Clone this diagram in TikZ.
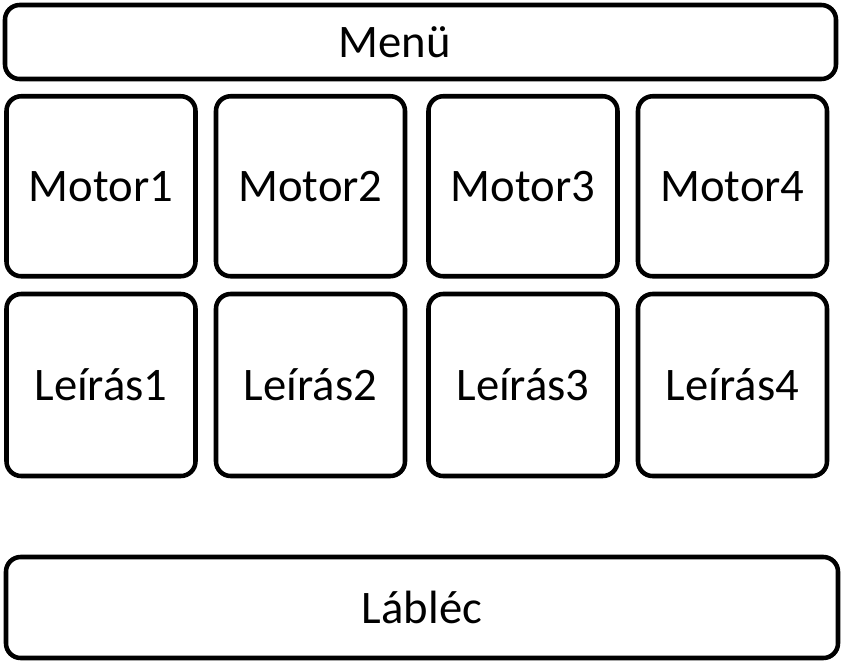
\documentclass[tikz,border=0pt]{standalone}
\usepackage{fontspec}
\setmainfont{Carlito}
\usepackage{tikz}
\tikzset{
  panel/.style={draw, line width=3.4pt, rounded corners=11pt, font=\fontsize{35}{42}\selectfont, inner sep=0pt},
  cell/.style={panel, minimum width=141.75pt, minimum height=135pt},
  desc/.style={panel, minimum width=141.75pt, minimum height=136.5pt},
}
\begin{document}
\begin{tikzpicture}[x=0.75pt,y=0.75pt,yscale=-1,xscale=1]
\useasboundingbox (0,0) rectangle (844,665);

%Shape: Rounded Rectangle [menu]
\node [panel, minimum width=623.25pt, minimum height=55.5pt,
  label={[font=\fontsize{35}{42}\selectfont, xshift=-19.5pt]center:Menü}] (menu) at (420.5,42) {};

%Shape: Rounded Rectangle [motor row]
\node [cell] (motor1) at (101,186.25) {Motor1};
\node [cell] (motor2) at (310.5,186.25) {Motor2};
\node [cell] (motor3) at (523,186.25) {Motor3};
\node [cell] (motor4) at (732.5,186.25) {Motor4};

%Shape: Rounded Rectangle [description row]
\node [desc] (leiras1) at (101,385) {Leírás1};
\node [desc] (leiras2) at (310.5,385) {Leírás2};
\node [desc] (leiras3) at (523,385) {Leírás3};
\node [desc] (leiras4) at (732.5,385) {Leírás4};

%Shape: Rounded Rectangle [footer]
\node [panel, minimum width=624pt, minimum height=75.75pt] (footer) at (422,607.5) {Lábléc};

\end{tikzpicture}
\end{document}
